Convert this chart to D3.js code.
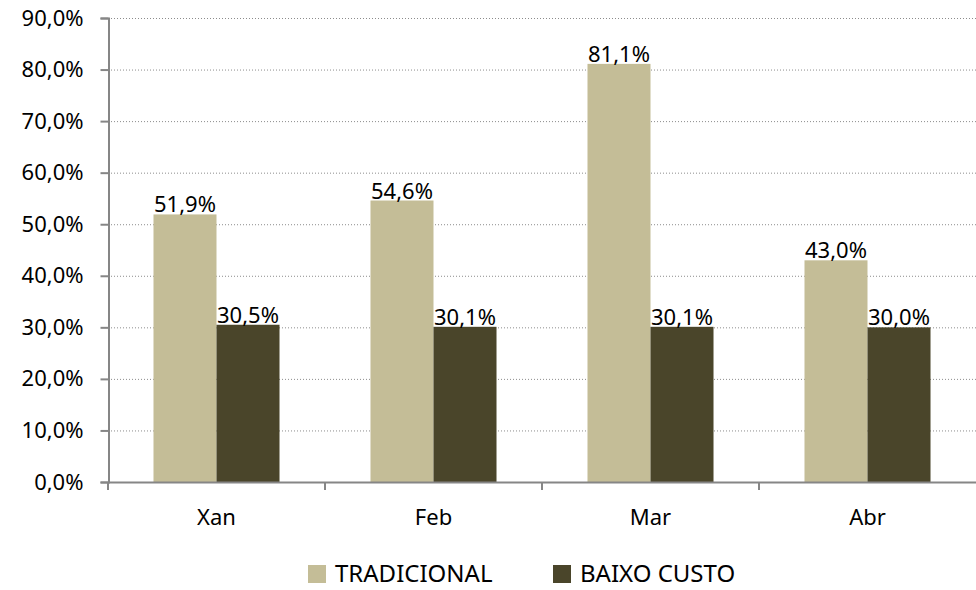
<!DOCTYPE html>
<html>
<head>
<meta charset="utf-8">
<script src="https://cdn.jsdelivr.net/npm/d3@7"></script>
<style>
  html, body { margin: 0; padding: 0; background: #fff; }
  svg { display: block; }
  text { font-family: "Noto Sans", sans-serif; fill: #000; }
</style>
</head>
<body>
<svg id="chart" width="976" height="590"></svg>
<script>
const categories = ["Xan", "Feb", "Mar", "Abr"];
const seriesNames = ["TRADICIONAL", "BAIXO CUSTO"];
const tradicional = [51.9, 54.6, 81.1, 43.0];
const baixoCusto = [30.5, 30.1, 30.1, 30.0];
const yTicks = [0, 10, 20, 30, 40, 50, 60, 70, 80, 90];
const colors = ["#C4BD97", "#4A452A"];

(function () {
const seriesValues = [tradicional, baixoCusto];
const fmt = v => v.toFixed(1).replace(".", ",") + "%";

const svg = d3.select("#chart");
const pLeft = 108, pRight = 976, pTop = 18, pBottom = 482;

const x = d3.scaleBand().domain(categories).range([pLeft, pRight]).padding(0);
const xs = d3.scaleBand().domain(seriesNames).range([0, x.bandwidth()])
  .paddingInner(0).paddingOuter(0.722);
const y = d3.scaleLinear().domain([0, 90]).range([pBottom, pTop]);

// gridlines
svg.append("g").selectAll("line").data(yTicks.filter(d => d > 0)).join("line")
  .attr("x1", pLeft).attr("x2", pRight)
  .attr("y1", d => y(d) + 0.5).attr("y2", d => y(d) + 0.5)
  .attr("stroke", "#8c8c8c").attr("stroke-width", 1)
  .attr("stroke-dasharray", "1,2");

// bars
const groups = svg.append("g").selectAll("g").data(categories).join("g")
  .attr("transform", d => `translate(${x(d)},0)`);
groups.selectAll("rect")
  .data((c, i) => seriesNames.map((s, k) => ({ s, k, v: seriesValues[k][i] })))
  .join("rect")
  .attr("x", d => xs(d.s))
  .attr("width", xs.bandwidth())
  .attr("y", d => y(d.v))
  .attr("height", d => y(0) - y(d.v))
  .attr("fill", d => colors[d.k]);

// data labels
groups.selectAll("text.lbl")
  .data((c, i) => seriesNames.map((s, k) => ({ s, k, v: seriesValues[k][i] })))
  .join("text").attr("class", "lbl")
  .attr("x", d => xs(d.s) + xs.bandwidth() / 2)
  .attr("y", d => y(d.v) - 2)
  .attr("text-anchor", "middle")
  .style("font-size", "22px")
  .text(d => fmt(d.v));

// y axis
const yAxis = d3.axisLeft(y).tickValues(yTicks).tickSize(8).tickPadding(17)
  .tickFormat(d => d.toFixed(1).replace(".", ",") + "%");
const gy = svg.append("g").attr("transform", `translate(${pLeft + 0.5},0)`).call(yAxis);
gy.select(".domain").attr("stroke", "#868686").attr("stroke-width", 2);
gy.selectAll(".tick line").attr("stroke", "#868686").attr("stroke-width", 2);
gy.selectAll(".tick text").style("font-size", "22px").attr("fill", "#000")
  .style("font-family", "'Noto Sans', sans-serif");

// x axis
const xAxis = d3.axisBottom(x).tickSize(0).tickPadding(0);
const gx = svg.append("g").attr("transform", `translate(0,${pBottom})`).call(xAxis);
gx.select(".domain").attr("stroke", "#868686").attr("stroke-width", 2);
gx.selectAll(".tick text").attr("y", 43).attr("dy", null)
  .style("font-size", "22px").attr("fill", "#000")
  .style("font-family", "'Noto Sans', sans-serif");
// category separator ticks
svg.append("g").selectAll("line").data(categories).join("line")
  .attr("x1", d => x(d)).attr("x2", d => x(d))
  .attr("y1", pBottom).attr("y2", pBottom + 8)
  .attr("stroke", "#868686").attr("stroke-width", 2);

// legend
const legend = svg.append("g");
const legendX = [308, 553];
seriesNames.forEach((s, k) => {
  legend.append("rect").attr("x", legendX[k]).attr("y", 565)
    .attr("width", 18).attr("height", 18).attr("fill", colors[k]);
  legend.append("text").attr("x", legendX[k] + 27).attr("y", 582)
    .style("font-size", "24px").text(s);
});
})();
</script>
</body>
</html>
